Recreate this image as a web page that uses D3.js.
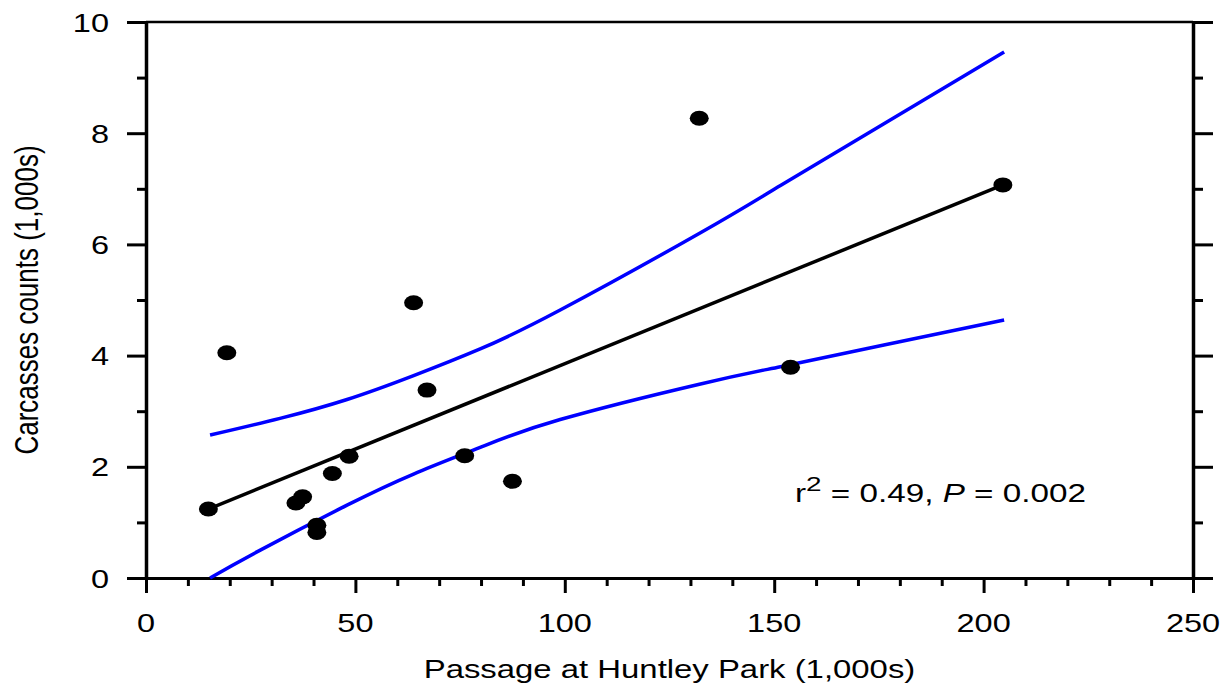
<!DOCTYPE html>
<html>
<head>
<meta charset="utf-8">
<script src="https://cdn.jsdelivr.net/npm/d3@7"></script>
<style>
  html, body { margin: 0; padding: 0; background: #fff; }
  svg { display: block; }
  text { font-family: "Liberation Sans", Arial, Helvetica, sans-serif; fill: #000; }
</style>
</head>
<body>
<svg id="chart" width="1221" height="683"></svg>
<script>
// ---- data ----
const passage = [14.9, 19.3, 35.8, 37.4, 40.8, 40.8, 44.5, 48.5, 63.9, 67.1, 76.1, 87.5, 132.1, 153.9, 204.6];
const carcasses = [1.24, 4.05, 1.35, 1.46, 0.95, 0.82, 1.88, 2.19, 4.95, 3.38, 2.20, 1.74, 8.27, 3.79, 7.07];

const fitX = [14.9, 204.6];
const fitY = [1.24, 7.07];

const upperX = [15.3, 32, 48, 63.9, 79.8, 98.9, 132.4, 151.5, 176.2, 204.9];
const upperY = [2.57, 2.87, 3.21, 3.64, 4.12, 4.82, 6.21, 7.06, 8.17, 9.46];
const lowerX = [15.3, 26.5, 48, 63.9, 79.8, 98.9, 132.4, 151.5, 176.2, 204.9];
const lowerY = [0.0, 0.47, 1.31, 1.87, 2.35, 2.85, 3.49, 3.80, 4.19, 4.64];

const xMajorTicks = [0, 50, 100, 150, 200, 250];
const xMinorTicks = [10, 20, 30, 40, 60, 70, 80, 90, 110, 120, 130, 140, 160, 170, 180, 190, 210, 220, 230, 240];
const yMajorTicks = [0, 2, 4, 6, 8, 10];
const yMinorTicks = [1, 3, 5, 7, 9];

const xTitle = "Passage at Huntley Park (1,000s)";
const yTitle = "Carcasses counts (1,000s)";

// ---- layout ----
const svg = d3.select("#chart");
const pL = 146, pR = 1193, pT = 22, pB = 578;
const SX = 1.3; // horizontal stretch of glyphs seen in reference

const x = d3.scaleLinear().domain([0, 250]).range([pL, pR]);
const y = d3.scaleLinear().domain([0, 10]).range([pB, pT]);

// top frame line
svg.append("line")
  .attr("x1", pL).attr("x2", pR).attr("y1", pT).attr("y2", pT)
  .attr("stroke", "#000").attr("stroke-width", 2.5);

function styleAxis(g, w) {
  g.selectAll("path.domain").attr("stroke", "#000").attr("stroke-width", w);
  g.selectAll(".tick line").attr("stroke", "#000").attr("stroke-width", 3);
  g.selectAll(".tick text").remove();
}

// bottom axis
const gxMinor = svg.append("g").attr("transform", `translate(0,${pB})`)
  .call(d3.axisBottom(x).tickValues(xMinorTicks).tickSize(8).tickFormat(""));
gxMinor.select("path.domain").remove();
styleAxis(gxMinor, 3);
const gx = svg.append("g").attr("transform", `translate(0,${pB})`)
  .call(d3.axisBottom(x).tickValues(xMajorTicks).tickSizeInner(15).tickSizeOuter(0).tickFormat(""));
styleAxis(gx, 3);

// left axis
const gyMinor = svg.append("g").attr("transform", `translate(${pL},0)`)
  .call(d3.axisLeft(y).tickValues(yMinorTicks).tickSize(9).tickFormat(""));
gyMinor.select("path.domain").remove();
styleAxis(gyMinor, 3);
const gy = svg.append("g").attr("transform", `translate(${pL},0)`)
  .call(d3.axisLeft(y).tickValues(yMajorTicks).tickSizeInner(19).tickSizeOuter(0).tickFormat(""));
styleAxis(gy, 3.5);

// right axis
const grMinor = svg.append("g").attr("transform", `translate(${pR},0)`)
  .call(d3.axisRight(y).tickValues(yMinorTicks).tickSize(10).tickFormat(""));
grMinor.select("path.domain").remove();
styleAxis(grMinor, 3);
const gr = svg.append("g").attr("transform", `translate(${pR},0)`)
  .call(d3.axisRight(y).tickValues(yMajorTicks).tickSizeInner(20).tickSizeOuter(0).tickFormat(""));
styleAxis(gr, 3.5);

// tick labels
svg.append("g").selectAll("text").data(xMajorTicks).join("text")
  .attr("transform", d => `translate(${x(d)},632) scale(${SX},1)`)
  .attr("text-anchor", "middle")
  .attr("font-size", 25)
  .text(d => d);

svg.append("g").selectAll("text").data(yMajorTicks).join("text")
  .attr("transform", d => `translate(109,${y(d) + 9.5}) scale(${SX},1)`)
  .attr("text-anchor", "end")
  .attr("font-size", 25)
  .text(d => d);

// axis titles
svg.append("text")
  .attr("transform", `translate(${(pL + pR) / 2},678) scale(${SX},1)`)
  .attr("text-anchor", "middle")
  .attr("font-size", 25.3)
  .text(xTitle);

svg.append("text")
  .attr("transform", `translate(38,${(pT + pB) / 2}) scale(1.3,1) rotate(-90)`)
  .attr("text-anchor", "middle")
  .attr("font-size", 26)
  .text(yTitle);

// confidence bands
const band = d3.line().x(d => x(d[0])).y(d => y(d[1])).curve(d3.curveNatural);
svg.append("path")
  .datum(upperX.map((v, i) => [v, upperY[i]]))
  .attr("d", band).attr("fill", "none").attr("stroke", "#0000ff").attr("stroke-width", 3.5);
svg.append("path")
  .datum(lowerX.map((v, i) => [v, lowerY[i]]))
  .attr("d", band).attr("fill", "none").attr("stroke", "#0000ff").attr("stroke-width", 3.5);

// regression line
svg.append("path")
  .datum(fitX.map((v, i) => [v, fitY[i]]))
  .attr("d", d3.line().x(d => x(d[0])).y(d => y(d[1])))
  .attr("fill", "none").attr("stroke", "#000").attr("stroke-width", 3.5);

// points
svg.append("g").selectAll("ellipse")
  .data(passage.map((v, i) => [v, carcasses[i]]))
  .join("ellipse")
  .attr("cx", d => x(d[0])).attr("cy", d => y(d[1]))
  .attr("rx", 9.5).attr("ry", 7.5)
  .attr("fill", "#000");

// annotation
const ann = svg.append("text")
  .attr("transform", `translate(795,502) scale(1.33,1)`)
  .attr("font-size", 25);
ann.append("tspan").text("r");
ann.append("tspan").attr("font-size", 21).attr("dy", -11).text("2");
ann.append("tspan").attr("dy", 11).text(" = 0.49, ");
ann.append("tspan").attr("font-style", "italic").text("P");
ann.append("tspan").text(" = 0.002");
</script>
</body>
</html>
